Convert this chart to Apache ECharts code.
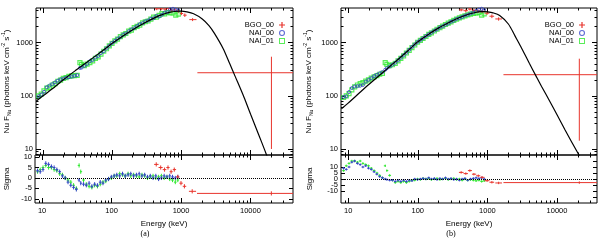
<!DOCTYPE html>
<html><head><meta charset="utf-8">
<script src="https://cdn.jsdelivr.net/npm/echarts@6/dist/echarts.min.js"></script>
<style>html,body{margin:0;padding:0;background:#fff}#c{width:600px;height:240px}</style>
</head><body><div id="c"></div>
<script>
// ---------- tick values ----------
const xMajor = [10, 100, 1000, 10000];
const xMinor = [9, 20, 30, 40, 50, 60, 70, 80, 90, 200, 300, 400, 500, 600, 700, 800, 900,
  2000, 3000, 4000, 5000, 6000, 7000, 8000, 9000, 20000, 30000];
const yMajor = [10, 100, 1000];
const yMinor = [8, 9, 20, 30, 40, 50, 60, 70, 80, 90, 200, 300, 400, 500, 600, 700, 800, 900, 2000, 3000, 4000];
const sigTicksA = [-10, -5, 0, 5, 10];
const sigTicksB = [-15, -10, -5, 0, 5, 10, 15];

// ---------- model curves ----------
const modelEA = [8, 10, 15, 20, 30, 40, 60, 80, 100, 150, 200, 300, 400, 500, 600, 700, 800, 900, 1000, 1200, 1500, 2000, 2500, 3000, 4000, 5000, 6000, 8000, 10000, 13000, 16000, 17500];
const modelA  = [80, 100, 150, 205, 305, 400, 590, 780, 975, 1400, 1780, 2400, 2900, 3300, 3580, 3760, 3870, 3920, 3920, 3800, 3500, 2800, 2100, 1500, 780, 400, 230, 95, 45, 19, 9.5, 7];
const modelEB = [8, 10, 15, 20, 30, 40, 60, 80, 100, 150, 200, 300, 400, 500, 600, 700, 800, 900, 1000, 1200, 1500, 2000, 2500, 3000, 4000, 5000, 6000, 8000, 10000, 13000, 16000, 20000, 23000];
const modelB  = [57, 73, 118, 165, 260, 360, 570, 800, 1040, 1500, 1900, 2500, 2980, 3330, 3580, 3740, 3830, 3860, 3820, 3650, 3250, 2250, 1330, 860, 410, 235, 150, 76, 44, 23, 14, 8.3, 6];

// ---------- NaI channels ----------
const naiE = [8.6, 9.4, 10.3, 11.3, 12.4, 13.6, 14.9, 16.3, 17.9, 19.6, 21.5, 23.6, 25.9, 28.4, 31.1, 34.1, 36.0, 39.5, 43.3, 47.5, 52.1, 57.1, 62.6, 68.7, 75.3, 82.6, 90.6, 99.3, 109, 119, 131, 144, 157, 173, 189, 208, 228, 250, 274, 300, 329, 361, 396, 434, 476, 522, 572, 628, 688, 755, 828, 900];
// panel (a)
const nai00A = [98, 105, 119, 145, 156, 166, 179, 193, 205, 209, 220, 224, 230, 238, 245, 335, 339, 366, 398, 449, 470, 528, 560, 638, 691, 785, 881, 985, 1081, 1186, 1271, 1418, 1486, 1633, 1775, 1876, 2049, 2237, 2328, 2520, 2611, 2829, 2880, 3192, 3104, 3360, 3710, 3739, 4250, 4350, 4200, 4077];
const nai01A = [100, 108, 124, 140, 146, 160, 170, 188, 198, 213, 220, 233, 238, 240, 243, 420, 390, 370, 395, 420, 455, 505, 540, 612, 690, 770, 870, 975, 1080, 1165, 1300, 1400, 1490, 1650, 1730, 1920, 2030, 2150, 2370, 2480, 2560, 2770, 3020, 3040, 3280, 3520, 3500, 3700, 3650, 3620, 3300, 3450];
const res00A = [3.5, 3, 4, 7, 6.5, 5.5, 5, 4, 3, 1, 0, -2, -3.5, -4.5, -5.5, -1, -2.5, -3, -3.5, -2.5, -4, -3, -3.5, -2, -2.5, -1, -0.5, 0.5, 1, 1.5, 1, 2, 1, 1.5, 2, 1, 1.5, 2, 1, 1.5, 0.5, 1, 0, 1, -0.5, 0, 1, 0.5, 1, 0.5, 0, 0.5];
const res01A = [3, 4, 5, 6, 5, 5, 4, 3.5, 2, 1.5, 0, -1, -2, -3.5, -5, 6, 3, -1, -3, -4, -4.5, -3.5, -4, -3, -2, -1.5, -0.5, 0, 1, 1, 2, 1.5, 1, 2, 1, 1.5, 1, 0.5, 1.5, 1, 0, 0.5, 1, 0, 0.5, 1, 0, 0.5, -0.5, -1, -2, -1];
// panel (b)
const nai00B = [95, 98, 118, 140, 150, 152, 155, 160, 185, 200, 215, 235, 250, 265, 280, 310, 330, 355, 385, 420, 465, 520, 580, 650, 735, 830, 930, 1030, 1120, 1210, 1330, 1440, 1540, 1680, 1780, 1940, 2030, 2180, 2300, 2480, 2600, 2800, 2900, 3050, 3250, 3350, 3550, 3700, 3950, 4200, 4350, 4100];
const nai01B = [93, 100, 110, 130, 148, 160, 170, 178, 190, 200, 215, 228, 240, 255, 265, 420, 390, 370, 385, 410, 455, 505, 565, 640, 720, 810, 905, 1020, 1110, 1200, 1310, 1430, 1530, 1660, 1790, 1920, 2060, 2200, 2330, 2470, 2630, 2790, 2940, 3060, 3200, 3350, 3450, 3550, 3600, 3700, 3300, 3500];
const res00B = [9, 8, 10, 14, 15, 13, 12, 10, 11, 9, 8, 6, 4, 2, 1, 0, -0.5, -1, -1, -2, -1, -2, -1, -2, -1, -1.5, 0, -0.5, 0, 0.5, 0, 1, 0, 0.5, -0.5, 0.5, 0, 1, 0, 0.5, -0.5, 0, -1, 0, 0.5, -1, 0, 0.5, 1, 0.5, 1, 0];
const res01B = [7, 11, 13, 15, 15, 14, 15, 13, 12, 11, 9, 7, 5, 3, 1, 11, 7, 3, -1, -3, -2, -3, -2, -3, -2, -1, -1, 0, -0.5, 0.5, 0, 0.5, -0.5, 0, 0.5, -0.5, 0, 0.5, -0.5, 0, 0.5, -0.5, 0, -1, 0, -1, -0.5, -1, -1.5, -1, -2, -1.5];

// ---------- BGO channels ----------
const bgoEA    = [440, 510, 580, 650, 720, 800, 900, 1000, 1120, 1450, 20000];
const bgoLoA   = [410, 475, 545, 615, 685, 760, 850, 950, 1060, 1300, 1700];
const bgoHiA   = [475, 545, 615, 685, 760, 850, 950, 1060, 1190, 1650, 45000];
const bgoValA  = [4350, 4350, 4300, 4400, 4100, 4150, 3900, 3550, 3300, 2720, 272];
const bgoVLoA  = [4100, 4100, 4050, 4150, 3850, 3900, 3650, 3300, 3050, 2550, 10];
const bgoVHiA  = [4600, 4600, 4550, 4650, 4350, 4400, 4150, 3800, 3550, 2900, 545];
const bgoResA  = [6.5, 5, 4, 5, 3, 4, 0.5, -2.5, -4, -6.4, -7.4];

const bgoEB    = [420, 490, 560, 640, 740, 840, 990, 1160, 1450, 20900];
const bgoLoB   = [390, 455, 525, 600, 690, 790, 910, 1070, 1300, 1700];
const bgoHiB   = [455, 525, 600, 690, 790, 910, 1070, 1250, 1620, 45000];
const bgoValB  = [4150, 4000, 4300, 4050, 3950, 3900, 3600, 3150, 2800, 250];
const bgoVLoB  = [3900, 3750, 4050, 3800, 3700, 3650, 3350, 2900, 2600, 14.3];
const bgoVHiB  = [4400, 4250, 4550, 4300, 4200, 4150, 3850, 3400, 3000, 500];
const bgoResB  = [5.5, 4.5, 7, 4, 2.7, 1.4, -1.4, -2.7, -3.3, -3];

// ---------- styling ----------
const FONT = 'Liberation Sans';
const RED = '#e8342c', BLUE = '#3344c8', GREEN = '#2ee82e';
const grids = [], xAxes = [], yAxes = [], series = [];

function channelBounds(E) {
  const lo = [], hi = [];
  for (let i = 0; i < E.length; i++) {
    const prev = i > 0 ? E[i - 1] : E[i] * E[i] / E[i + 1];
    const next = i < E.length - 1 ? E[i + 1] : E[i] * E[i] / E[i - 1];
    lo.push(Math.sqrt(prev * E[i])); hi.push(Math.sqrt(E[i] * next));
  }
  return [lo, hi];
}
const [naiLo, naiHi] = channelBounds(naiE);

function crossRender(color) {
  return function (params, api) {
    const x = api.value(0), xl = api.value(1), xh = api.value(2);
    const y = api.value(3), yl = api.value(4), yh = api.value(5);
    const a = api.coord([xl, y]), b = api.coord([xh, y]);
    const c = api.coord([x, yl]), d = api.coord([x, yh]);
    const st = { stroke: color, lineWidth: 1, fill: null };
    return { type: 'group', children: [
      { type: 'line', shape: { x1: a[0], y1: a[1], x2: b[0], y2: b[1] }, style: st },
      { type: 'line', shape: { x1: c[0], y1: c[1], x2: d[0], y2: d[1] }, style: st }
    ]};
  };
}
function crossSeries(name, color, xi, yi, data) {
  return { type: 'custom', name, xAxisIndex: xi, yAxisIndex: yi, clip: true,
    itemStyle: { color }, renderItem: crossRender(color),
    dimensions: ['x', 'xl', 'xh', 'y', 'yl', 'yh'], encode: { x: 0, y: 3 }, data, z: 3 };
}

const lab = { fontFamily: FONT, fontSize: 7.5, color: '#000' };
function decoAxis(list, props) {
  const base = { type: 'value', splitLine: { show: false }, axisLine: { show: false, onZero: false },
    minorTick: { show: false }, axisLabel: { show: false }, silent: true };
  list.push(Object.assign(base, props));
  return list.length - 1;
}
function tick(values, len) {
  return { show: true, inside: true, length: len, customValues: values, lineStyle: { color: '#000', width: 1 } };
}
const pow10fmt = v => String(Math.round(Math.pow(10, v)));

function panel(P) {
  const gU = grids.push({ left: P.left, top: 8, width: P.width, height: 147, show: true, borderColor: '#000', borderWidth: 1 }) - 1;
  const gL = grids.push({ left: P.left, top: 155, width: P.width, height: 48, show: true, borderColor: '#000', borderWidth: 1 }) - 1;
  const lx0 = Math.log10(P.xMin), lx1 = Math.log10(P.xMax);
  const ly0 = Math.log10(P.yMin), ly1 = Math.log10(P.yMax);
  const lxMaj = xMajor.map(Math.log10), lxMin = xMinor.map(Math.log10);
  const lyMaj = yMajor.map(Math.log10), lyMin = yMinor.map(Math.log10);

  // data axes
  const dxU = xAxes.push({ type: 'log', logBase: 10, gridIndex: gU, min: P.xMin, max: P.xMax, show: false, axisLine: { onZero: false } }) - 1;
  const dxL = xAxes.push({ type: 'log', logBase: 10, gridIndex: gL, min: P.xMin, max: P.xMax, show: false, axisLine: { onZero: false } }) - 1;
  const dyU = yAxes.push({ type: 'log', logBase: 10, gridIndex: gU, min: P.yMin, max: P.yMax, show: false, axisLine: { onZero: false } }) - 1;
  const dyL = yAxes.push({ type: 'value', gridIndex: gL, min: P.sMin, max: P.sMax, show: false, axisLine: { onZero: false } }) - 1;

  // decoration x axes
  [gU, gL].forEach(g => {
    ['bottom', 'top'].forEach(pos => {
      const major = { gridIndex: g, position: pos, min: lx0, max: lx1, axisTick: tick(lxMaj, 5) };
      if (g === gL && pos === 'bottom') {
        major.axisLabel = Object.assign({ show: true, customValues: lxMaj, margin: 4, formatter: pow10fmt }, lab);
        Object.assign(major, { name: 'Energy (keV)', nameLocation: 'middle', nameGap: 17,
          nameTextStyle: { fontFamily: FONT, fontSize: 8, color: '#000' } });
      }
      decoAxis(xAxes, major);
      decoAxis(xAxes, { gridIndex: g, position: pos, min: lx0, max: lx1, axisTick: tick(lxMin, 2.5) });
    });
  });
  // decoration y axes, upper
  ['left', 'right'].forEach(pos => {
    const major = { gridIndex: gU, position: pos, min: ly0, max: ly1, axisTick: tick(lyMaj, 5) };
    if (pos === 'left') {
      major.axisLabel = Object.assign({ show: true, customValues: lyMaj, margin: 3, formatter: pow10fmt }, lab);
      Object.assign(major, {
        name: '{n|Nu F}{s|Nu}{n| (photons keV cm}{p|-2}{n| s}{p|-1}{n|)}',
        nameLocation: 'middle', nameGap: P.nameGap, nameRotate: 90,
        nameTextStyle: { fontFamily: FONT, fontSize: 8, color: '#000', rich: {
          n: { fontFamily: FONT, fontSize: 8, color: '#000', lineHeight: 11, verticalAlign: 'middle' },
          s: { fontFamily: FONT, fontSize: 5, color: '#000', lineHeight: 11, verticalAlign: 'bottom' },
          p: { fontFamily: FONT, fontSize: 5, color: '#000', lineHeight: 11, verticalAlign: 'top' } } }
      });
    }
    decoAxis(yAxes, major);
    decoAxis(yAxes, { gridIndex: gU, position: pos, min: ly0, max: ly1, axisTick: tick(lyMin, 2.5) });
  });
  // decoration y axes, lower
  ['left', 'right'].forEach(pos => {
    const ax = { gridIndex: gL, position: pos, min: P.sMin, max: P.sMax, axisTick: tick(P.sTicks, 4) };
    if (pos === 'left') {
      ax.axisLabel = Object.assign({ show: true, customValues: P.sTicks, margin: 3 }, lab);
      Object.assign(ax, { name: 'Sigma', nameLocation: 'middle', nameGap: P.nameGap, nameRotate: 90,
        nameTextStyle: { fontFamily: FONT, fontSize: 8, color: '#000' } });
    }
    decoAxis(yAxes, ax);
  });

  // upper data
  series.push({ type: 'scatter', name: 'NAI_01', xAxisIndex: dxU, yAxisIndex: dyU, symbol: 'rect', symbolSize: 4,
    itemStyle: { color: 'rgba(0,0,0,0)', borderColor: GREEN, borderWidth: 1.2 },
    data: naiE.map((e, i) => [e, P.n1[i]]), z: 2 });
  series.push({ type: 'scatter', name: 'NAI_00', xAxisIndex: dxU, yAxisIndex: dyU, symbol: 'circle', symbolSize: 3,
    itemStyle: { color: 'rgba(0,0,0,0)', borderColor: BLUE, borderWidth: 1 },
    data: naiE.map((e, i) => [e, P.n0[i]]), z: 3 });
  series.push(crossSeries('BGO_00', RED, dxU, dyU,
    P.bE.map((e, i) => [e, P.bLo[i], P.bHi[i], P.bV[i], P.bVLo[i], P.bVHi[i]])));
  series.push({ type: 'line', name: 'model', xAxisIndex: dxU, yAxisIndex: dyU, showSymbol: false, smooth: 0.3,
    lineStyle: { color: '#000', width: 1.2 }, data: P.mE.map((e, i) => [e, P.mV[i]]), z: 5 });

  // lower residuals
  series.push({ type: 'scatter', name: 'zero', xAxisIndex: dxL, yAxisIndex: dyL, symbolSize: 0,
    data: naiE.map((e, i) => [e, P.r0[i]]),
    markLine: { silent: true, symbol: ['none', 'none'], label: { show: false },
      lineStyle: { type: 'dotted', color: '#000', width: 1 }, data: [{ yAxis: 0 }] } });
  series.push(crossSeries('NAI_01', GREEN, dxL, dyL, naiE.map((e, i) => [e, naiLo[i], naiHi[i], P.r1[i], P.r1[i] - 1, P.r1[i] + 1])));
  series.push(crossSeries('NAI_00', BLUE, dxL, dyL, naiE.map((e, i) => [e, naiLo[i], naiHi[i], P.r0[i], P.r0[i] - 1, P.r0[i] + 1])));
  series.push(crossSeries('BGO_00', RED, dxL, dyL, P.bE.map((e, i) => [e, P.bLo[i], P.bHi[i], P.bR[i], P.bR[i] - 1, P.bR[i] + 1])));
}

panel({ left: 35, width: 258, xMin: 7.9, xMax: 41000, yMin: 7.7, yMax: 4500, sMin: -12, sMax: 11, sTicks: sigTicksA, nameGap: 24,
  mE: modelEA, mV: modelA, n0: nai00A, n1: nai01A, r0: res00A, r1: res01A,
  bE: bgoEA, bLo: bgoLoA, bHi: bgoHiA, bV: bgoValA, bVLo: bgoVLoA, bVHi: bgoVHiA, bR: bgoResA });
panel({ left: 341, width: 256, xMin: 7.9, xMax: 37500, yMin: 7.7, yMax: 4500, sMin: -20, sMax: 20, sTicks: sigTicksB, nameGap: 27,
  mE: modelEB, mV: modelB, n0: nai00B, n1: nai01B, r0: res00B, r1: res01B,
  bE: bgoEB, bLo: bgoLoB, bHi: bgoHiB, bV: bgoValB, bVLo: bgoVLoB, bVHi: bgoVHiB, bR: bgoResB });

const plusIcon = 'path://M4,0h2v4h4v2h-4v4h-2v-4h-4v-2h4z';
const ringIcon = 'path://M0,5a5,5 0 1,0 10,0a5,5 0 1,0 -10,0zM1.8,5a3.2,3.2 0 1,1 6.4,0a3.2,3.2 0 1,1 -6.4,0z';
const squareIcon = 'path://M0,0h10v10h-10zM1.6,1.6v6.8h6.8v-6.8z';
function legendFor(right) {
  return { orient: 'vertical', right, top: 16, align: 'right', itemGap: 0, itemWidth: 6, itemHeight: 6,
    selectedMode: false, textStyle: { fontFamily: FONT, fontSize: 7.5, color: '#000', lineHeight: 7 },
    data: [
      { name: 'BGO_00', icon: plusIcon, itemStyle: { color: RED, borderWidth: 0 } },
      { name: 'NAI_00', icon: ringIcon, itemStyle: { color: BLUE, borderWidth: 0 } },
      { name: 'NAI_01', icon: squareIcon, itemStyle: { color: GREEN, borderWidth: 0 } }
    ] };
}

const chart = echarts.init(document.getElementById('c'), null, { renderer: 'canvas' });
chart.setOption({
  animation: false,
  backgroundColor: '#fff',
  textStyle: { fontFamily: FONT },
  grid: grids, xAxis: xAxes, yAxis: yAxes, series,
  legend: [legendFor(310), legendFor(10)],
  graphic: [
    { type: 'text', x: 145, y: 234, style: { text: '(a)', font: '8px "Liberation Serif"', fill: '#000', textAlign: 'center', textVerticalAlign: 'middle' } },
    { type: 'text', x: 451, y: 234, style: { text: '(b)', font: '8px "Liberation Serif"', fill: '#000', textAlign: 'center', textVerticalAlign: 'middle' } }
  ]
});
</script>
</body></html>
